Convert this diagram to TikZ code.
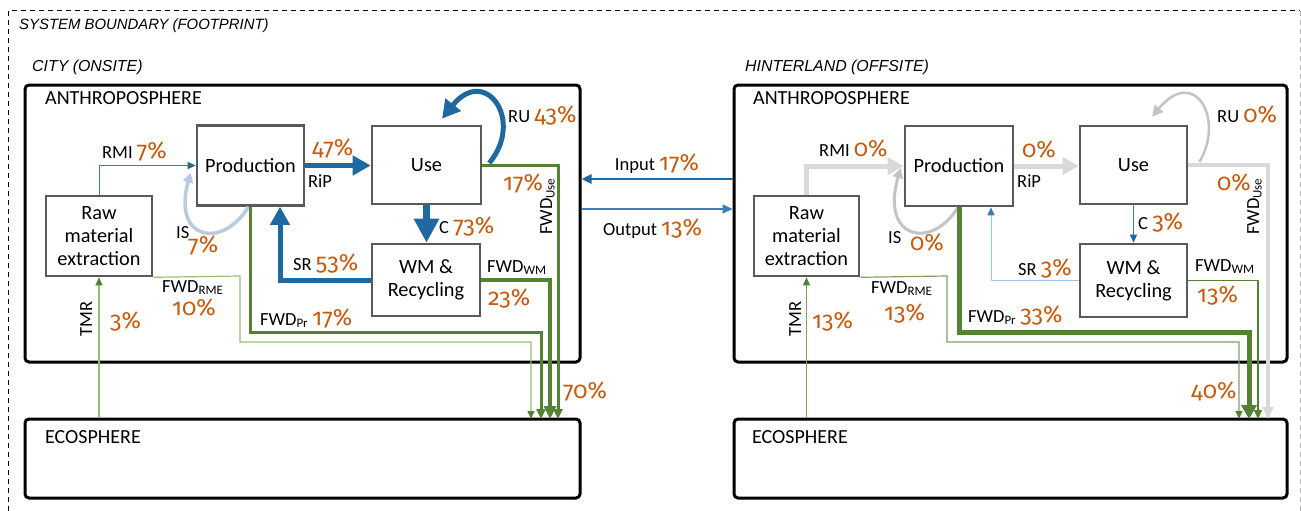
\documentclass[tikz,border=0pt]{standalone}
\usepackage{fontspec}
\setmainfont{Carlito}
\newfontfamily\pctf[Numbers=OldStyle]{Fira Sans}
\newfontfamily\arialf{Liberation Sans}
\usetikzlibrary{arrows.meta,calc}
\definecolor{cblue}{RGB}{31,104,160}
\definecolor{mblue}{RGB}{60,125,185}
\definecolor{lblue}{RGB}{157,195,230}
\definecolor{cgreen}{RGB}{84,130,53}
\definecolor{pgreen}{RGB}{150,190,120}
\definecolor{cgray}{RGB}{89,89,89}
\definecolor{lgray}{RGB}{217,217,217}
\definecolor{rgray}{RGB}{195,195,195}
\definecolor{corange}{RGB}{197,90,17}
\definecolor{isblue}{RGB}{185,203,220}
\newcommand{\pc}[1]{{\color{corange}\pctf\fontsize{23.5}{23.5}\selectfont #1\%}}
\newcommand{\fsub}[1]{\textsubscript{#1}}
\tikzset{
  proc/.style={draw=cgray, line width=2.6pt, fill=white, align=center, inner sep=0pt,
    font=\fontsize{20.3}{23.3}\selectfont},
  sphere/.style={draw=black, line width=3pt, rounded corners=4pt, inner sep=0pt},
  lbl/.style={anchor=base west, inner sep=0pt, font=\fontsize{18.5}{20}\selectfont},
  ttl/.style={anchor=base west, inner sep=0pt, font=\arialf\itshape\fontsize{15.9}{17}\selectfont},
  sph/.style={anchor=base west, inner sep=0pt, font=\fontsize{20}{22}\selectfont},
  bfl/.style={draw=cblue, line width=5pt, -{Triangle[length=18pt,width=19pt]}},
  cfl/.style={draw=cblue, line width=7pt, -{Triangle[length=24pt,width=24pt]}},
  tbfl/.style={draw=mblue, line width=1pt, -{Triangle[length=8pt,width=7pt,color=cblue]}},
  srthin/.style={draw=lblue, line width=1pt, -{Triangle[length=8pt,width=7pt,color=mblue]}},
  isfl/.style={draw=isblue, line width=3.5pt, -{Triangle[length=10pt,width=10pt]}},
  isgr/.style={draw=rgray, line width=3pt, -{Triangle[length=10pt,width=10pt]}},
  gyfl/.style={draw=lgray, line width=5pt, -{Triangle[length=16pt,width=17pt]}},
  gyln/.style={draw=lgray, line width=3.5pt, -{Triangle[length=12pt,width=11pt]}},
  rugr/.style={draw=rgray, line width=2.5pt, -{Triangle[length=11pt,width=11pt]}},
  gfl/.style={draw=cgreen, line width=3pt, -{Triangle[length=10pt,width=9pt]}},
  gflw/.style={draw=cgreen, line width=3.5pt, -{Triangle[length=13pt,width=12pt]}},
  gflt/.style={draw=cgreen, line width=1.8pt, -{Triangle[length=9pt,width=8pt]}},
  gflk/.style={draw=cgreen, line width=5pt, -{Triangle[length=14pt,width=15pt]}},
  pfl/.style={draw=pgreen, line width=1.2pt, -{Triangle[length=8pt,width=7pt,color=cgreen]}},
  pflr/.style={draw=cgreen!75, line width=1.2pt, -{Triangle[length=8pt,width=7pt,color=cgreen]}},
  io/.style={line width=2.5pt, -{Triangle[length=10pt,width=9pt]}},
}
\begin{document}
\begin{tikzpicture}[x=1pt,y=-1pt]
\useasboundingbox (0,0) rectangle (1301,511);
% system boundary
\draw[line width=1pt, dash pattern=on 5pt off 4pt] (8,511) -- (8,11) -- (1300,11);
\draw[line width=1pt, dash pattern=on 5pt off 4pt, black!30] (1300,11) -- (1300,511);
\node[ttl, font=\arialf\itshape\fontsize{14.9}{16}\selectfont] (sysb) at (19,30) {SYSTEM BOUNDARY (FOOTPRINT)};
\node[ttl] (cityt) at (32,72) {CITY (ONSITE)};
\node[ttl] (hintt) at (745,72) {HINTERLAND (OFFSITE)};

% spheres
\node[sphere, minimum width=555pt, minimum height=277pt] (anthL) at (302.5,223.5) {};
\node[sphere, minimum width=555pt, minimum height=79pt] (ecoL) at (302.5,458.5) {};
\node[sphere, minimum width=553pt, minimum height=277pt] (anthR) at (1010.5,223.5) {};
\node[sphere, minimum width=553pt, minimum height=79pt] (ecoR) at (1010.5,458.5) {};
\node[sph] (antL) at (45,104) {ANTHROPOSPHERE};
\node[sph] (antR) at (753,104) {ANTHROPOSPHERE};
\node[sph] (ecoLt) at (45,443) {ECOSPHERE};
\node[sph] (ecoRt) at (752,443) {ECOSPHERE};

% left boxes
\node[proc, minimum width=107pt, minimum height=80pt] (prodL) at (250.5,165.5) {Production};
\node[proc, minimum width=106pt, minimum height=80pt] (rawL) at (99,236) {Raw\\material\\extraction};
\node[proc, minimum width=109pt, minimum height=78pt] (useL) at (426.5,165) {Use};
\node[proc, minimum width=108pt, minimum height=72pt] (wmL) at (426,280) {WM \&\\Recycling};
% right boxes
\node[proc, minimum width=108pt, minimum height=80pt] (prodR) at (959,166) {Production};
\node[proc, minimum width=105pt, minimum height=80pt] (rawR) at (806.5,236) {Raw\\material\\extraction};
\node[proc, minimum width=107pt, minimum height=78pt] (useR) at (1133.5,165) {Use};
\node[proc, minimum width=107pt, minimum height=73pt] (wmR) at (1133.5,280.5) {WM \&\\Recycling};

% coordinates
\coordinate (isLs) at ($(prodL.south)+(-2,0)$);
\coordinate (isLe) at ($(prodL.west)+(-5,7)$);
\coordinate (ruLs) at ($(useL.east)+(7,-2)$);
\coordinate (ruLe) at ($(useL.north)+(15.5,-6)$);
\coordinate (srLe) at ($(prodL.south)+(29.5,0)$);
\coordinate (fuL) at (558,419);
\coordinate (fwL) at (550,419);
\coordinate (cprL) at (541,332);
\coordinate (fpL) at (541,419);
\coordinate (crL1) at (240,276);
\coordinate (crL2) at (531,342);
\coordinate (frL) at (531,419);

\coordinate (isRs) at ($(prodR.south)+(-1,0)$);
\coordinate (isRe) at ($(prodR.west)+(-3,2)$);
\coordinate (ruRs) at ($(useR.east)+(11,-3)$);
\coordinate (ruRe) at ($(useR.north)+(18.5,-8)$);
\coordinate (srRe) at ($(prodR.south)+(32,0)$);
\coordinate (fuR) at (1268,419);
\coordinate (fwR) at (1258,419);
\coordinate (cprR) at (1249,332);
\coordinate (fpR) at (1249,419);
\coordinate (crR1) at (947,276);
\coordinate (crR2) at (1239,342);
\coordinate (frR) at (1239,419);

% left connectors
\draw[tbfl] (rawL.north) |- (prodL.west);
\draw[isfl] (isLs) .. controls (222,250) and (172,240) .. (isLe);
\draw[bfl] (prodL.east) -- (prodL.east -| useL.west);
\draw[bfl] (ruLs) .. controls (525,120) and (485,65) .. (ruLe);
\draw[cfl] (useL.south) -- (useL.south |- wmL.north);
\draw[bfl] (wmL.west) -| (srLe);
\draw[pfl] (rawL.south east) -- (crL1) |- (crL2) -- (frL);
\draw[gfl] (prodL.south) |- (cprL) -- (fpL);
\draw[gflw] (wmL.east) -| (fwL);
\draw[gfl] (useL.east) -| (fuL);
\draw[pfl] (ecoL.north -| rawL.south) -- (rawL.south);

% between panels
\draw[io, draw=cblue] (anthR.west |- 0,179) -- (anthL.east |- 0,179);
\draw[io, draw=mblue, line width=1.6pt] (anthL.east |- 0,209) -- (anthR.west |- 0,209);

% right connectors
\draw[gyfl] (rawR.north) |- (prodR.west);
\draw[isgr] (isRs) .. controls (932,250) and (880,240) .. (isRe);
\draw[gyfl] (prodR.east) -- (prodR.east -| useR.west);
\draw[rugr] (ruRs) .. controls (1225,120) and (1195,65) .. (ruRe);
\draw[tbfl] (useR.south) -- (useR.south |- wmR.north);
\draw[srthin] (wmR.west) -| (srRe);
\draw[pflr] (rawR.south east) -- (crR1) |- (crR2) -- (frR);
\draw[gflk] (prodR.south) |- (cprR) -- (fpR);
\draw[gflt] (wmR.east) -| (fwR);
\draw[gyln] (useR.east) -| (fuR);
\draw[pflr] (ecoR.north -| rawR.south) -- (rawR.south);

% left labels
\node[lbl] (lRMI) at (102,158) {RMI \pc{7}};
\node[lbl] (lIS) at (176,238) {IS};
\node[lbl] (lISp) at (188,252) {\pc{7}};
\node[lbl] (lRiPp) at (312,155) {\pc{47}};
\node[lbl] (lRiP) at (308,187) {RiP};
\node[lbl] (lRU) at (508,122) {RU \pc{43}};
\node[lbl] (lFUp) at (503,190) {\pc{17}};
\node[lbl, rotate=90] (lFU) at (552,235) {FWD\fsub{Use}};
\node[lbl] (lC) at (439,233) {C \pc{73}};
\node[lbl] (lSR) at (293,270) {SR \pc{53}};
\node[lbl] (lFW) at (487,272) {FWD\fsub{WM}};
\node[lbl] (lFWp) at (488,305) {\pc{23}};
\node[lbl] (lFP) at (260,325) {FWD\fsub{Pr} \pc{17}};
\node[lbl] (lFR) at (162,292) {FWD\fsub{RME}};
\node[lbl] (lFRp) at (172,315) {\pc{10}};
\node[lbl, rotate=90] (lTMR) at (92,337) {TMR};
\node[lbl] (lTMRp) at (110,328) {\pc{3}};
\node[lbl] (lTot) at (563,398) {\pc{70}};
\node[lbl, anchor=base] (lIn) at (657,170) {Input \pc{17}};
\node[lbl] (lOut) at (603,235) {Output \pc{13}};

% right labels
\node[lbl] (rRMI) at (819,156) {RMI \pc{0}};
\node[lbl] (rIS) at (888,243) {IS};
\node[lbl] (rISp) at (910,250) {\pc{0}};
\node[lbl] (rRiPp) at (1022,157) {\pc{0}};
\node[lbl] (rRiP) at (1017,187) {RiP};
\node[lbl] (rRU) at (1217,122) {RU \pc{0}};
\node[lbl] (rFUp) at (1217,190) {\pc{0}};
\node[lbl, rotate=90] (rFU) at (1259,235) {FWD\fsub{Use}};
\node[lbl] (rC) at (1138,229) {C \pc{3}};
\node[lbl] (rSR) at (1018,275) {SR \pc{3}};
\node[lbl] (rFW) at (1195,271) {FWD\fsub{WM}};
\node[lbl] (rFWp) at (1197,302) {\pc{13}};
\node[lbl] (rFP) at (968,322) {FWD\fsub{Pr} \pc{33}};
\node[lbl] (rFR) at (871,293) {FWD\fsub{RME}};
\node[lbl] (rFRp) at (884,320) {\pc{13}};
\node[lbl, rotate=90] (rTMR) at (801,337) {TMR};
\node[lbl] (rTMRp) at (812,328) {\pc{13}};
\node[lbl] (rTot) at (1191,398) {\pc{40}};
\end{tikzpicture}
\end{document}
